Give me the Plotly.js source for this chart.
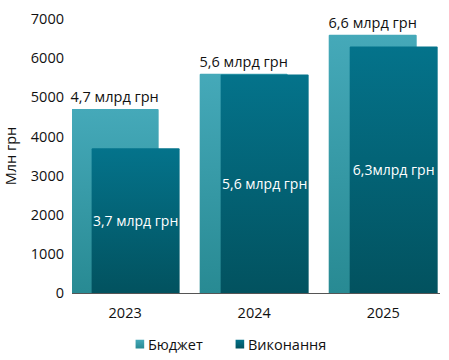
<!DOCTYPE html>
<html>
<head>
<meta charset="utf-8">
<script src="https://cdn.plot.ly/plotly-3.0.1.min.js"></script>
<style>
  html, body { margin: 0; padding: 0; background: #fff; }
  #chart { width: 449px; height: 360px; }
</style>
</head>
<body>
<div id="chart"></div>
<script>
// ---- data ----
var years = ['2023', '2024', '2025'];
var budget = [4700, 5600, 6600];
var execution = [3700, 5580, 6300];
var budgetLabels = ['4,7 млрд грн', '5,6 млрд грн', '6,6 млрд грн'];
var executionLabels = ['3,7 млрд грн', '5,6 млрд грн', '6,3млрд грн'];
var seriesNames = ['Бюджет', 'Виконання'];
var yTicks = [0, 1000, 2000, 3000, 4000, 5000, 6000, 7000];
var yTitle = 'Млн грн';

var FONT = '"Open Sans", "Noto Sans", sans-serif';

var traces = [
  {
    type: 'bar', name: seriesNames[0], x: years, y: budget,
    width: 0.682, offset: -0.4225,
    marker: { color: '#3a9eab', line: { width: 0 }, cornerradius: 1 },
    text: budgetLabels, textposition: 'outside', textangle: 0,
    constraintext: 'none', cliponaxis: false,
    textfont: { family: FONT, size: 14.5, color: '#111' },
    hoverinfo: 'skip'
  },
  {
    type: 'bar', name: seriesNames[1], x: years, y: execution,
    width: 0.682, offset: -0.26,
    marker: { color: '#03667a', line: { width: 0 }, cornerradius: 1 },
    text: executionLabels, textposition: 'inside', insidetextanchor: 'middle',
    textangle: 0, constraintext: 'none', cliponaxis: false,
    textfont: { family: FONT, size: 14, color: '#ffffff' },
    hoverinfo: 'skip'
  }
];

var layout = {
  width: 449, height: 360,
  margin: { l: 72, r: 9, t: 19, b: 67, autoexpand: false },
  paper_bgcolor: '#fff', plot_bgcolor: '#fff',
  barmode: 'overlay',
  font: { family: FONT, size: 14, color: '#111' },
  showlegend: true,
  legend: {
    orientation: 'h', xref: 'container', yref: 'container',
    x: 0.267, xanchor: 'left', y: 0.044, yanchor: 'middle',
    font: { family: FONT, size: 14.5, color: '#111' },
    itemclick: false, itemdoubleclick: false, traceorder: 'normal'
  },
  xaxis: {
    type: 'category', range: [-0.412, 2.44], fixedrange: true,
    showline: true, linecolor: '#555', linewidth: 1,
    showgrid: false, zeroline: false, ticks: '',
    ticklabelstandoff: 7,
    tickfont: { family: FONT, size: 14.5, color: '#111' }
  },
  yaxis: {
    range: [0, 7000], fixedrange: true,
    tickvals: yTicks, ticktext: yTicks.map(String),
    showgrid: false, zeroline: false, showline: false, ticks: '',
    ticklabelstandoff: 7,
    tickfont: { family: FONT, size: 14.5, color: '#111' },
    title: { text: yTitle, standoff: 10, font: { family: FONT, size: 14.5, color: '#111' } }
  }
};

Plotly.newPlot('chart', traces, layout, { staticPlot: true, displayModeBar: false }).then(function (gd) {
  var svg = gd.querySelector('svg.main-svg');
  var NS = 'http://www.w3.org/2000/svg';
  var defs = svg.querySelector('defs') || svg.insertBefore(document.createElementNS(NS, 'defs'), svg.firstChild);
  function grad(id, top, bottom) {
    var g = document.createElementNS(NS, 'linearGradient');
    g.setAttribute('id', id);
    g.setAttribute('x1', '0'); g.setAttribute('y1', '0');
    g.setAttribute('x2', '0'); g.setAttribute('y2', '1');
    [[0, top], [1, bottom]].forEach(function (s) {
      var st = document.createElementNS(NS, 'stop');
      st.setAttribute('offset', s[0]);
      st.setAttribute('stop-color', s[1]);
      g.appendChild(st);
    });
    defs.appendChild(g);
  }
  grad('gBudget', '#45a9b9', '#288a93');
  grad('gExec', '#04738b', '#02525f');
  var ids = ['gBudget', 'gExec'];
  var tr = gd.querySelectorAll('.barlayer .trace');
  tr.forEach(function (t, i) {
    t.querySelectorAll('.point path').forEach(function (p) {
      p.style.fill = 'url(#' + ids[i] + ')';
    });
  });
  var leg = gd.querySelectorAll('.legend .traces');
  var firstX = null;
  leg.forEach(function (t, i) {
    t.querySelectorAll('.legendpoints path').forEach(function (p) {
      p.style.fill = 'url(#' + ids[i] + ')';
      p.setAttribute('d', 'M4.3,4.3H-4.3V-4.3H4.3Z');
    });
    t.querySelectorAll('.legendtext').forEach(function (tx) {
      var x0 = parseFloat(tx.getAttribute('x')) || 0;
      tx.setAttribute('x', x0 - 12);
    });
    var tf = t.getAttribute('transform') || '';
    var m = /translate\(\s*([-\d.]+)[ ,]+([-\d.]+)\s*\)/.exec(tf);
    if (m) {
      var tx0 = parseFloat(m[1]), ty0 = parseFloat(m[2]);
      if (firstX === null) firstX = tx0;
      else t.setAttribute('transform', 'translate(' + (firstX + 100 * i) + ',' + ty0 + ')');
    }
  });
});
</script>
</body>
</html>
